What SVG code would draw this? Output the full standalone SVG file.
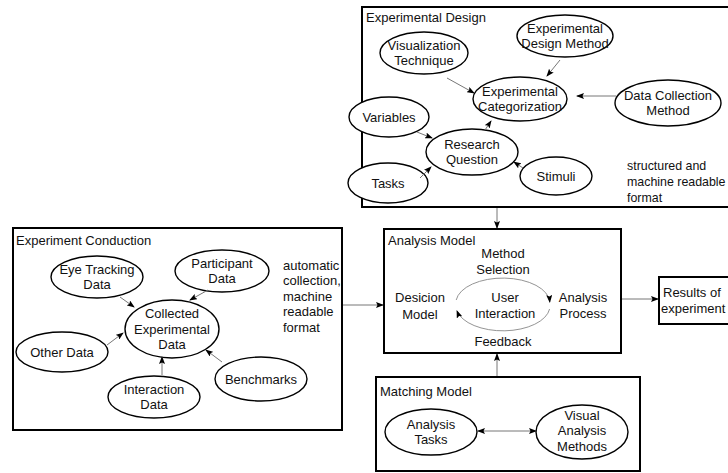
<svg xmlns="http://www.w3.org/2000/svg" width="728" height="473" viewBox="0 0 728 473">
<style>
text{font-family:"Liberation Sans",Arial,sans-serif;font-size:13px;fill:#111}
.c{text-anchor:middle}
.sm{font-size:12.4px}
.box{fill:#fff;stroke:#000;stroke-width:2}
.nd{fill:#fff;stroke:#000;stroke-width:1.4}
.e{fill:none;stroke:#777;stroke-width:1;marker-end:url(#ah)}
.cyc{fill:none;stroke:#888;stroke-width:0.9;marker-end:url(#ah)}
</style>
<defs>
<marker id="ah" markerUnits="userSpaceOnUse" markerWidth="8" markerHeight="6" refX="7" refY="3" orient="auto">
<path d="M0,0 L8,3 L0,6 L1.5,3 z" fill="#000"/>
</marker>
<marker id="as" markerUnits="userSpaceOnUse" markerWidth="8" markerHeight="6" refX="1" refY="3" orient="auto">
<path d="M8,0 L0,3 L8,6 L6.5,3 z" fill="#000"/>
</marker>
</defs>
<rect width="728" height="473" fill="#fff"/>

<g id="experimental-design">
<rect class="box" x="362" y="7" width="380" height="200"/>
<text x="366" y="22">Experimental Design</text>
<text class="sm" x="627" y="170">structured and</text>
<text class="sm" x="627" y="186">machine readable</text>
<text class="sm" x="627" y="202">format</text>
</g>
<g id="visualization-technique"><ellipse class="nd" cx="424" cy="53" rx="44" ry="21"/><text class="c" x="424" y="50">Visualization</text><text class="c" x="424" y="65">Technique</text></g>
<g id="experimental-design-method"><ellipse class="nd" cx="565" cy="36" rx="48" ry="21"/><text class="c" x="565" y="33">Experimental</text><text class="c" x="565" y="48">Design Method</text></g>
<g id="experimental-categorization"><ellipse class="nd" cx="520" cy="99" rx="47" ry="22"/><text class="c" x="520" y="96">Experimental</text><text class="c" x="520" y="111">Categorization</text></g>
<g id="data-collection-method"><ellipse class="nd" cx="668" cy="103" rx="53" ry="23"/><text class="c" x="668" y="100">Data Collection</text><text class="c" x="668" y="115">Method</text></g>
<g id="variables"><ellipse class="nd" cx="389" cy="117" rx="40" ry="20"/><text class="c" x="389" y="122">Variables</text></g>
<g id="research-question"><ellipse class="nd" cx="472" cy="152" rx="46" ry="23"/><text class="c" x="472" y="149">Research</text><text class="c" x="472" y="164">Question</text></g>
<g id="tasks"><ellipse class="nd" cx="388" cy="183" rx="40" ry="20"/><text class="c" x="388" y="188">Tasks</text></g>
<g id="stimuli"><ellipse class="nd" cx="556" cy="176" rx="36" ry="19"/><text class="c" x="556" y="181">Stimuli</text></g>

<g id="experiment-conduction">
<rect class="box" x="13" y="228" width="329" height="202"/>
<text x="16" y="245">Experiment Conduction</text>
<text x="283" y="270">automatic</text>
<text x="283" y="285">collection,</text>
<text x="283" y="301">machine</text>
<text x="283" y="316">readable</text>
<text x="283" y="332">format</text>
</g>
<g id="eye-tracking-data"><ellipse class="nd" cx="97" cy="277" rx="46" ry="21"/><text class="c" x="97" y="274">Eye Tracking</text><text class="c" x="97" y="289">Data</text></g>
<g id="participant-data"><ellipse class="nd" cx="222" cy="271" rx="47" ry="21"/><text class="c" x="222" y="268">Participant</text><text class="c" x="222" y="283">Data</text></g>
<g id="collected-experimental-data"><ellipse class="nd" cx="172" cy="329" rx="47" ry="29"/><text class="c" x="172" y="318">Collected</text><text class="c" x="172" y="334">Experimental</text><text class="c" x="172" y="349">Data</text></g>
<g id="other-data"><ellipse class="nd" cx="62" cy="352" rx="46" ry="20"/><text class="c" x="62" y="357">Other Data</text></g>
<g id="interaction-data"><ellipse class="nd" cx="154" cy="397" rx="46" ry="21"/><text class="c" x="154" y="394">Interaction</text><text class="c" x="154" y="409">Data</text></g>
<g id="benchmarks"><ellipse class="nd" cx="261" cy="379" rx="46" ry="22"/><text class="c" x="261" y="384">Benchmarks</text></g>

<g id="analysis-model">
<rect class="box" x="384" y="229" width="237" height="124"/>
<text x="388" y="245">Analysis Model</text>
<text class="c" x="503" y="258">Method</text>
<text class="c" x="503" y="274">Selection</text>
<text class="c" x="420" y="302">Desicion</text>
<text class="c" x="420" y="319">Model</text>
<text class="c" x="505" y="302">User</text>
<text class="c" x="505" y="318">Interaction</text>
<text class="c" x="583" y="302">Analysis</text>
<text class="c" x="583" y="318">Process</text>
<text class="c" x="503" y="346">Feedback</text>
<path class="cyc" d="M456.2,300 A47,25 0 0 1 549.8,302"/>
<path class="cyc" d="M549.6,309 A47,25 0 0 1 457,311"/>
</g>

<g id="results">
<rect class="box" x="659" y="277" width="80" height="47"/>
<text x="663" y="297">Results of</text>
<text x="661" y="313">experiment</text>
</g>

<g id="matching-model">
<rect class="box" x="376" y="377" width="264" height="94"/>
<text x="380" y="396">Matching Model</text>
</g>
<g id="analysis-tasks"><ellipse class="nd" cx="431" cy="432" rx="46" ry="23"/><text class="c" x="431" y="429">Analysis</text><text class="c" x="431" y="444">Tasks</text></g>
<g id="visual-analysis-methods"><ellipse class="nd" cx="582" cy="432" rx="46" ry="27"/><text class="c" x="582" y="420">Visual</text><text class="c" x="582" y="435">Analysis</text><text class="c" x="582" y="451">Methods</text></g>

<g id="connectors">
<path class="e" d="M447,78 L474,93"/>
<path class="e" d="M560,60 L547,76"/>
<path class="e" d="M616,96 L577,96"/>
<path class="e" d="M417,132 L432,138"/>
<path class="e" d="M420,178 L431,167"/>
<path class="e" d="M523,168 L514,162"/>
<path class="e" d="M485,130 L491,121"/>
<path class="e" d="M497,208 L497,228"/>
<path class="e" d="M120,297 L134,307"/>
<path class="e" d="M208,290 L190,300"/>
<path class="e" d="M107,345 L123,333"/>
<path class="e" d="M162,375 L162,357"/>
<path class="e" d="M222,362 L206,350"/>
<path class="e" d="M343,305 L383,305"/>
<path class="e" d="M622,299 L658,299"/>
<path class="e" d="M497,376 L497,354"/>
<path class="e" d="M478,431 L536,431" marker-start="url(#as)"/>
</g>
</svg>
